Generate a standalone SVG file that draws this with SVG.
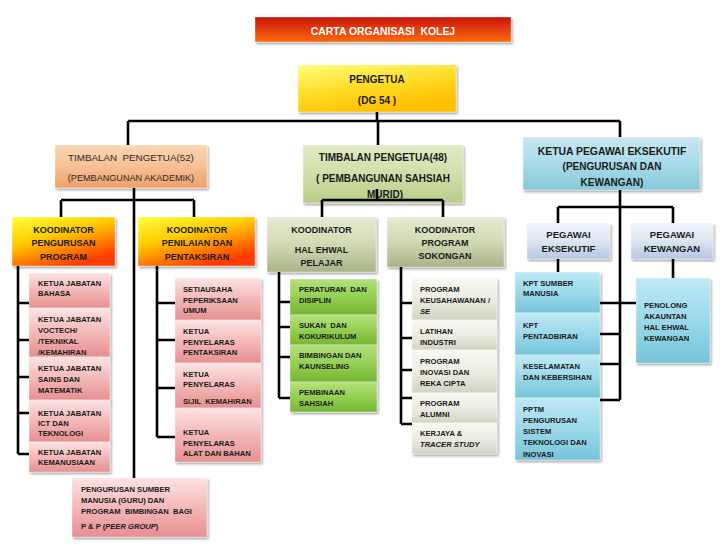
<svg xmlns="http://www.w3.org/2000/svg" width="728" height="546" viewBox="0 0 728 546">
<defs>
<style>
text{font-family:"Liberation Sans",Arial,sans-serif;fill:#1a1a1a}
.m{font-size:10px;font-weight:bold;text-anchor:middle}
.n{font-size:9.8px;font-weight:normal;text-anchor:middle;fill:#2a2a2a;white-space:pre}
.k{font-size:9px;font-weight:bold;text-anchor:middle}
.c{font-size:7.6px;font-weight:bold;white-space:pre}
.i{font-style:italic}
.w{fill:#ffffff}
rect.b{stroke:#ffffff;stroke-opacity:0.45;stroke-width:0.8;filter:url(#sh)}
.ln{fill:none;stroke:#000;stroke-width:2.6}
</style>
<filter id="sh" x="-10%" y="-10%" width="130%" height="140%">
<feDropShadow dx="1.5" dy="2" stdDeviation="1.1" flood-color="#000" flood-opacity="0.35"/>
</filter>
<linearGradient id="gTitle" x1="0" y1="0" x2="0" y2="1"><stop offset="0" stop-color="#c8140c"/><stop offset="1" stop-color="#ff6a06"/></linearGradient>
<linearGradient id="gYel" x1="0" y1="0" x2="0.5" y2="1"><stop offset="0" stop-color="#ffff78"/><stop offset="0.6" stop-color="#ffd820"/><stop offset="1" stop-color="#ffbe00"/></linearGradient>
<linearGradient id="gPeach" x1="0" y1="0" x2="0" y2="1"><stop offset="0" stop-color="#fbd6b4"/><stop offset="0.5" stop-color="#f8c094"/><stop offset="1" stop-color="#eda06a"/></linearGradient>
<linearGradient id="gLG" x1="0" y1="0" x2="0" y2="1"><stop offset="0" stop-color="#e0eac6"/><stop offset="0.5" stop-color="#d0dfa8"/><stop offset="1" stop-color="#b9cc88"/></linearGradient>
<linearGradient id="gLB" x1="0" y1="0" x2="0" y2="1"><stop offset="0" stop-color="#c8e8f1"/><stop offset="0.5" stop-color="#a9dbe8"/><stop offset="1" stop-color="#86c8da"/></linearGradient>
<linearGradient id="gOr" x1="0" y1="0" x2="0.55" y2="1"><stop offset="0" stop-color="#ffff3c"/><stop offset="0.45" stop-color="#ffcc00"/><stop offset="1" stop-color="#ff3c00"/></linearGradient>
<linearGradient id="gOl" x1="0" y1="0" x2="0" y2="1"><stop offset="0" stop-color="#e6ecd2"/><stop offset="0.5" stop-color="#d1d9b3"/><stop offset="1" stop-color="#a9b387"/></linearGradient>
<linearGradient id="gPg" x1="0" y1="0" x2="0" y2="1"><stop offset="0" stop-color="#f1f5fb"/><stop offset="0.5" stop-color="#dce5f2"/><stop offset="1" stop-color="#b5c8e2"/></linearGradient>
<linearGradient id="gPk" x1="0" y1="0" x2="0" y2="1"><stop offset="0" stop-color="#fde3e3"/><stop offset="0.45" stop-color="#f5bcbc"/><stop offset="1" stop-color="#e68f8f"/></linearGradient>
<linearGradient id="gGr" x1="0" y1="0" x2="0" y2="1"><stop offset="0" stop-color="#b4e07c"/><stop offset="0.5" stop-color="#94cf52"/><stop offset="1" stop-color="#76b534"/></linearGradient>
<linearGradient id="gBg" x1="0" y1="0" x2="0" y2="1"><stop offset="0" stop-color="#f9f9f5"/><stop offset="0.5" stop-color="#ececE2"/><stop offset="1" stop-color="#d3d3c3"/></linearGradient>
<linearGradient id="gCy" x1="0" y1="0" x2="0" y2="1"><stop offset="0" stop-color="#bfe9f4"/><stop offset="0.5" stop-color="#9ad9ea"/><stop offset="1" stop-color="#76c4da"/></linearGradient>
</defs>
<rect width="728" height="546" fill="#ffffff"/>

<g id="title"><rect class="b" x="255" y="17" width="256" height="25" fill="url(#gTitle)"/><text class="m w" x="383" y="35" style="white-space:pre;font-size:10.4px">CARTA ORGANISASI  KOLEJ</text></g>

<g id="pengetua"><rect class="b" x="298" y="65" width="158" height="47" fill="url(#gYel)"/><text class="m" x="377" y="83">PENGETUA</text><text class="m" x="377" y="104" style="white-space:pre">(DG 54 )</text></g>

<g id="timbalan52"><rect class="b" x="55" y="145" width="152" height="43" fill="url(#gPeach)"/><text class="n" x="131" y="160.5">TIMBALAN  PENGETUA(52)</text><text class="n" x="131" y="181" style="font-size:9.1px">(PEMBANGUNAN AKADEMIK)</text></g>

<g id="timbalan48"><rect class="b" x="303" y="145" width="160" height="58" fill="url(#gLG)"/><text class="m" x="383" y="160.5">TIMBALAN PENGETUA(48)</text><text class="m" x="383" y="181.5">( PEMBANGUNAN SAHSIAH</text><text class="m" x="385" y="197.5">MURID)</text></g>

<g id="ketuapegawai"><rect class="b" x="523" y="137" width="177" height="53" fill="url(#gLB)"/><text class="m" x="612" y="154.5" style="font-size:10.4px">KETUA PEGAWAI EKSEKUTIF</text><text class="m" x="612" y="170">(PENGURUSAN DAN</text><text class="m" x="612" y="186">KEWANGAN)</text></g>

<g id="k-pengurusan"><rect class="b" x="12" y="217" width="103" height="49" fill="url(#gOr)"/><text class="k" x="63.5" y="232.5">KOODINATOR</text><text class="k" x="63.5" y="245.5">PENGURUSAN</text><text class="k" x="63.5" y="259.5">PROGRAM</text></g>

<g id="k-penilaian"><rect class="b" x="138" y="217" width="117" height="49" fill="url(#gOr)"/><text class="k" x="197" y="232.5">KOODINATOR</text><text class="k" x="197" y="245.5">PENILAIAN DAN</text><text class="k" x="197" y="259.5">PENTAKSIRAN</text></g>

<g id="k-halehwal"><rect class="b" x="267" y="217" width="109" height="55" fill="url(#gOl)"/><text class="k" x="321.5" y="232.5">KOODINATOR</text><text class="k" x="321.5" y="252.5">HAL EHWAL</text><text class="k" x="321.5" y="265.5">PELAJAR</text></g>

<g id="k-sokongan"><rect class="b" x="387" y="217" width="117" height="50" fill="url(#gOl)"/><text class="k" x="445" y="232.5">KOODINATOR</text><text class="k" x="445" y="245.5">PROGRAM</text><text class="k" x="445" y="259">SOKONGAN</text></g>

<g id="p-eksekutif"><rect class="b" x="527" y="223" width="83" height="36" fill="url(#gPg)"/><text class="k" x="568.5" y="237.5" style="font-size:9.5px">PEGAWAI</text><text class="k" x="568.5" y="251.5" style="font-size:9.5px">EKSEKUTIF</text></g>

<g id="p-kewangan"><rect class="b" x="631" y="223" width="82" height="36" fill="url(#gPg)"/><text class="k" x="672" y="237.5" style="font-size:9.5px">PEGAWAI</text><text class="k" x="672" y="251.5" style="font-size:9.5px">KEWANGAN</text></g>

<g id="j-bahasa"><rect class="b" x="29" y="273" width="81" height="35" fill="url(#gPk)"/><text class="c" x="38" y="286">KETUA JABATAN</text><text class="c" x="38" y="296">BAHASA</text></g>
<g id="j-voctech"><rect class="b" x="29" y="308" width="81" height="49" fill="url(#gPk)"/><text class="c" x="38" y="322">KETUA JABATAN</text><text class="c" x="38" y="333">VOCTECH/</text><text class="c" x="38" y="344">/TEKNIKAL</text><text class="c" x="38" y="354.5">/KEMAHIRAN</text></g>
<g id="j-sains"><rect class="b" x="29" y="357" width="81" height="43" fill="url(#gPk)"/><text class="c" x="38" y="371">KETUA JABATAN</text><text class="c" x="38" y="382">SAINS DAN</text><text class="c" x="38" y="392.5">MATEMATIK</text></g>
<g id="j-ict"><rect class="b" x="29" y="400" width="81" height="42" fill="url(#gPk)"/><text class="c" x="38" y="415.5">KETUA JABATAN</text><text class="c" x="38" y="425.5">ICT DAN</text><text class="c" x="38" y="435.5">TEKNOLOGI</text></g>
<g id="j-kemanusiaan"><rect class="b" x="29" y="442" width="81" height="30" fill="url(#gPk)"/><text class="c" x="38" y="455">KETUA JABATAN</text><text class="c" x="38" y="465">KEMANUSIAAN</text></g>

<g id="n-setiausaha"><rect class="b" x="175" y="278" width="86" height="42" fill="url(#gPk)"/><text class="c" x="183" y="292">SETIAUSAHA</text><text class="c" x="183" y="302.5">PEPERIKSAAN</text><text class="c" x="183" y="312.5">UMUM</text></g>
<g id="n-pentaksiran"><rect class="b" x="175" y="320" width="86" height="43" fill="url(#gPk)"/><text class="c" x="183" y="333.5">KETUA</text><text class="c" x="183" y="344.5">PENYELARAS</text><text class="c" x="183" y="355">PENTAKSIRAN</text></g>
<g id="n-sijil"><rect class="b" x="175" y="363" width="86" height="45" fill="url(#gPk)"/><text class="c" x="183" y="377">KETUA</text><text class="c" x="183" y="387">PENYELARAS</text><text class="c" x="183" y="404">SIJIL  KEMAHIRAN</text></g>
<g id="n-alat"><rect class="b" x="175" y="408" width="86" height="54" fill="url(#gPk)"/><text class="c" x="183" y="435">KETUA</text><text class="c" x="183" y="445.5">PENYELARAS</text><text class="c" x="183" y="456">ALAT DAN BAHAN</text></g>

<g id="sumber-manusia"><rect class="b" x="72" y="478" width="135" height="59" fill="url(#gPk)"/><text class="c" x="81" y="492">PENGURUSAN SUMBER</text><text class="c" x="81" y="503">MANUSIA (GURU) DAN</text><text class="c" x="81" y="514">PROGRAM  BIMBINGAN  BAGI</text><text class="c" x="81" y="529">P &amp; P (<tspan class="i">PEER GROUP</tspan>)</text></g>

<g id="h-peraturan"><rect class="b" x="290" y="279" width="87" height="36" fill="url(#gGr)"/><text class="c" x="299" y="292">PERATURAN  DAN</text><text class="c" x="299" y="302.5">DISIPLIN</text></g>
<g id="h-sukan"><rect class="b" x="290" y="315" width="87" height="30" fill="url(#gGr)"/><text class="c" x="299" y="328">SUKAN  DAN</text><text class="c" x="299" y="339">KOKURIKULUM</text></g>
<g id="h-bimbingan"><rect class="b" x="290" y="345" width="87" height="37" fill="url(#gGr)"/><text class="c" x="299" y="358">BIMBINGAN DAN</text><text class="c" x="299" y="368.5">KAUNSELING</text></g>
<g id="h-pembinaan"><rect class="b" x="290" y="382" width="87" height="30" fill="url(#gGr)"/><text class="c" x="299" y="395">PEMBINAAN</text><text class="c" x="299" y="405.5">SAHSIAH</text></g>

<g id="s-keusahawanan"><rect class="b" x="412" y="278" width="85" height="42" fill="url(#gBg)"/><text class="c" x="420" y="292">PROGRAM</text><text class="c" x="420" y="303">KEUSAHAWANAN /</text><text class="c i" x="420" y="313.5">SE</text></g>
<g id="s-latihan"><rect class="b" x="412" y="320" width="85" height="30" fill="url(#gBg)"/><text class="c" x="420" y="333.5">LATIHAN</text><text class="c" x="420" y="344.5">INDUSTRI</text></g>
<g id="s-inovasi"><rect class="b" x="412" y="350" width="85" height="43" fill="url(#gBg)"/><text class="c" x="420" y="363.5">PROGRAM</text><text class="c" x="420" y="374.5">INOVASI DAN</text><text class="c" x="420" y="385.5">REKA CIPTA</text></g>
<g id="s-alumni"><rect class="b" x="412" y="393" width="85" height="30" fill="url(#gBg)"/><text class="c" x="420" y="406">PROGRAM</text><text class="c" x="420" y="417">ALUMNI</text></g>
<g id="s-kerjaya"><rect class="b" x="412" y="423" width="85" height="31" fill="url(#gBg)"/><text class="c" x="420" y="435.5">KERJAYA &amp;</text><text class="c i" x="420" y="447">TRACER STUDY</text></g>

<g id="e-sumber"><rect class="b" x="515" y="272" width="85" height="41" fill="url(#gCy)"/><text class="c" x="523" y="285.5">KPT SUMBER</text><text class="c" x="523" y="295.5">MANUSIA</text></g>
<g id="e-pentadbiran"><rect class="b" x="515" y="313" width="85" height="42" fill="url(#gCy)"/><text class="c" x="523" y="327.5">KPT</text><text class="c" x="523" y="338.5">PENTADBIRAN</text></g>
<g id="e-keselamatan"><rect class="b" x="515" y="355" width="85" height="43" fill="url(#gCy)"/><text class="c" x="523" y="369">KESELAMATAN</text><text class="c" x="523" y="380">DAN KEBERSIHAN</text></g>
<g id="e-pptm"><rect class="b" x="515" y="398" width="85" height="62" fill="url(#gCy)"/><text class="c" x="523" y="411.5">PPTM</text><text class="c" x="523" y="423">PENGURUSAN</text><text class="c" x="523" y="434">SISTEM</text><text class="c" x="523" y="445">TEKNOLOGI DAN</text><text class="c" x="523" y="456.5">INOVASI</text></g>

<g id="k-penolong"><rect class="b" x="636" y="278" width="74" height="85" fill="url(#gCy)"/><text class="c" x="644" y="307.5">PENOLONG</text><text class="c" x="644" y="318.5">AKAUNTAN</text><text class="c" x="644" y="329.5">HAL EHWAL</text><text class="c" x="644" y="340.5">KEWANGAN</text></g>

<g id="connectors" class="ln">
<path d="M377 112V121M128 121H620M128 121V145M378 121V145M620 121V137"/>
<path d="M134 188V478M61 200H194M61 200V217M194 200V217"/>
<path d="M377 189V200M322 200H443M322 200V217M443 200V217"/>
<path d="M620 190V400M558 207H673M558 207V223M673 207V223M558 259V272M673 259V278"/>
<path d="M600 303H636M600 334H620M600 364H620M600 400H620"/>
<path d="M18 266V454M18 303H29M18 340H29M18 377H29M18 413H29M18 454H29"/>
<path d="M157 266V437M157 303H175M157 340H175M157 388H175M157 437H175"/>
<path d="M279 272V398M279 302H290M279 327H290M279 357H290M279 398H290"/>
<path d="M401 267V424M401 303H412M401 338H412M401 370H412M401 398H412M401 424H412"/>
</g>
</svg>
